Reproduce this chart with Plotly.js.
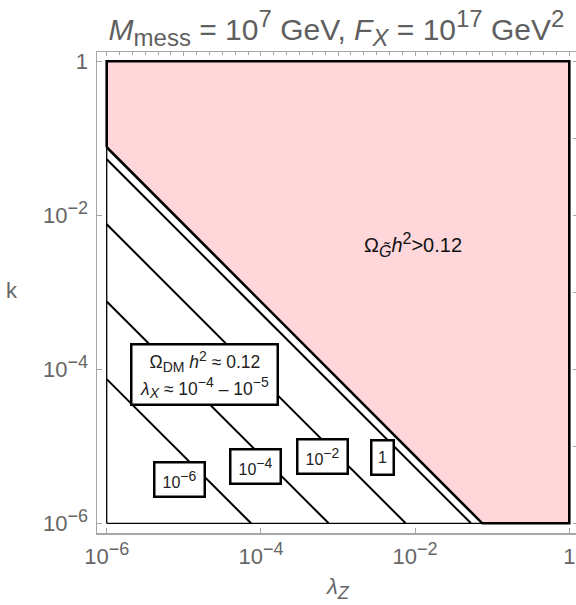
<!DOCTYPE html>
<html>
<head>
<meta charset="utf-8">
<script src="https://cdn.plot.ly/plotly-3.0.1.min.js"></script>
<style>html,body{margin:0;padding:0;background:#fff;}#chart{width:576px;height:605px;}</style>
</head>
<body>
<div id="chart"></div>
<script>
// ---- data ----
const lambdaZDomain = [1e-6, 1];          // plotted range of lambda_Z
const kDomain = [1e-6, 1];                // plotted range of k
// relic-density boundary (pink region above it)
const boundaryKAtLeft = 7.64e-2;          // k where boundary meets lambda_Z = 1e-6
const boundaryLambdaAtBottom = 7.43e-2;   // lambda_Z where boundary meets k = 1e-6
// contour lines (Omega_DM h^2 ~ 0.12 for given lambda_X)
const contourExponents = ['−6', '−4', '−2', ''];   // labels 10^-6, 10^-4, 10^-2, 1
const contourKAtLeft = [7.45e-5, 7.6e-4, 7.64e-3, 5.33e-2];
const contourLambdaAtBottom = [7.45e-5, 7.57e-4, 7.55e-3, 5.31e-2];
// axis ticks
const xTickVals = [1e-6, 1e-4, 1e-2, 1];
const xTickExp = ['−6', '−4', '−2', ''];
const yTickVals = [1e-6, 1e-4, 1e-2, 1];
const yTickExp = ['−6', '−4', '−2', ''];

const FONT = 'Liberation Sans, Arial, Helvetica, sans-serif';
const GRAY = '#666666';
const AX = '#a6a6a6';

function sz(t, px) { return '<span style="font-size:' + px + 'px">' + t + '</span>'; }
function sup(t, px) { return '<sup>' + sz(t, px) + '</sup>'; }
function sub(t, px) { return '<sub>' + sz(t, px) + '</sub>'; }
function pow10(e, px) { return e === '' ? '1' : '10' + sup(e, px); }

const traces = [];
// pink excluded region
traces.push({
  type: 'scatter', mode: 'lines',
  x: [lambdaZDomain[0], lambdaZDomain[0], lambdaZDomain[1], lambdaZDomain[1], boundaryLambdaAtBottom, lambdaZDomain[0]],
  y: [boundaryKAtLeft, kDomain[1], kDomain[1], kDomain[0], kDomain[0], boundaryKAtLeft],
  fill: 'toself', fillcolor: 'rgb(255,215,218)',
  line: {color: '#000', width: 2.6}, hoverinfo: 'skip'
});
// thin frame of the data domain
traces.push({
  type: 'scatter', mode: 'lines',
  x: [lambdaZDomain[0], lambdaZDomain[1], lambdaZDomain[1], lambdaZDomain[0], lambdaZDomain[0]],
  y: [kDomain[0], kDomain[0], kDomain[1], kDomain[1], kDomain[0]],
  line: {color: '#000', width: 1.3}, hoverinfo: 'skip'
});
// contour lines
for (let i = 0; i < contourKAtLeft.length; i++) {
  traces.push({
    type: 'scatter', mode: 'lines',
    x: [lambdaZDomain[0], contourLambdaAtBottom[i]],
    y: [contourKAtLeft[i], kDomain[0]],
    line: {color: '#000', width: 2}, hoverinfo: 'skip'
  });
}
// dummy trace for the top/right tick axes
traces.push({type: 'scatter', mode: 'markers', x: [-3], y: [-3], xaxis: 'x2', yaxis: 'y2',
  marker: {opacity: 0}, hoverinfo: 'skip'});

const xr = [-6.126, 0.087];
const yr = [-6.126, 0.12];

const labelPos = [[-5.053, -5.431], [-4.066, -5.260], [-3.205, -5.131], [-2.423, -5.142]];
const labelW = [48, 48, 48, 20];
const annotations = contourExponents.map((e, i) => ({
  text: pow10(e, 14), x: labelPos[i][0], y: labelPos[i][1], xref: 'x', yref: 'y',
  showarrow: false, xanchor: 'center', yanchor: 'middle',
  width: labelW[i], height: 32, bgcolor: '#fff', bordercolor: '#000', borderwidth: 2.5, borderpad: 0,
  font: {family: FONT, size: 16, color: '#222'}
}));
annotations.push({
  text: sz('Ω' + sub('DM', 14) + ' <i>h</i>' + sup('2', 14) + ' ≈ 0.12', 17.5) + '<br>' +
        sz('<i>λ</i>' + sub('<i>X</i>', 14) + ' ≈ 10' + sup('−4', 14) + ' – 10' + sup('−5', 14), 17.5),
  x: -4.732, y: -4.070, xref: 'x', yref: 'y', showarrow: false, xanchor: 'center', yanchor: 'middle',
  width: 144, height: 58, bgcolor: '#fff', bordercolor: '#000', borderwidth: 2.5, borderpad: 0,
  font: {family: FONT, size: 20.5, color: '#222'}
});
annotations.push({
  text: 'Ω' + sub('<i>G̃</i>', 16) + '<i>h</i>' + sup('2', 16) + '&gt;0.12',
  x: -2.027, y: -2.386, xref: 'x', yref: 'y', showarrow: false, xanchor: 'center', yanchor: 'middle',
  font: {family: FONT, size: 20, color: '#111'}
});
annotations.push({
  text: '<i>λ</i>' + sub('<i>Z</i>', 18), x: 0.503, y: -0.1164, xref: 'paper', yref: 'paper',
  showarrow: false, xanchor: 'center', yanchor: 'middle', font: {family: FONT, size: 22, color: GRAY}
});
annotations.push({
  text: 'k', x: -0.1775, y: 0.505, xref: 'paper', yref: 'paper',
  showarrow: false, xanchor: 'center', yanchor: 'middle', font: {family: FONT, size: 22, color: GRAY}
});

const layout = {
  width: 576, height: 605,
  margin: {l: 97, r: 0, t: 52, b: 72, pad: 0},
  paper_bgcolor: '#fff', plot_bgcolor: '#fff',
  showlegend: false,
  font: {family: FONT, color: GRAY},
  title: {
    text: '<i>M</i>' + sub('mess', 24) + ' = 10' + sup('7', 24) + ' GeV, <i>F</i>' + sub('<i>X</i>', 24) +
          ' = 10' + sup('17', 24) + ' GeV' + sup('2', 24),
    x: 0.5, xref: 'paper', xanchor: 'center', y: 0.952, yref: 'container', yanchor: 'middle',
    font: {family: FONT, size: 30, color: '#5f5f5f'}
  },
  xaxis: {
    type: 'log', range: xr, tickvals: xTickVals, ticktext: xTickExp.map(e => pow10(e, 18)),
    ticks: 'inside', ticklen: 5, tickwidth: 1, tickcolor: AX,
    showline: true, linecolor: AX, linewidth: 1.5, showgrid: false, zeroline: false,
    tickfont: {family: FONT, size: 22, color: GRAY}, ticklabelstandoff: 3
  },
  yaxis: {
    type: 'log', range: yr, tickvals: yTickVals, ticktext: yTickExp.map(e => pow10(e, 18)),
    ticks: 'inside', ticklen: 5, tickwidth: 1, tickcolor: AX,
    showline: true, linecolor: AX, linewidth: 1.5, showgrid: false, zeroline: false,
    tickfont: {family: FONT, size: 22, color: GRAY}, ticklabelstandoff: 3
  },
  xaxis2: {
    overlaying: 'x', side: 'top', range: xr, tick0: 0, dtick: 1,
    ticks: 'inside', ticklen: 4, tickwidth: 1, tickcolor: AX,
    minor: {dtick: 1/6, tick0: 0, ticks: 'inside', ticklen: 2.5, tickcolor: AX, showgrid: false},
    showline: true, linecolor: AX, linewidth: 1.5, showgrid: false, zeroline: false, showticklabels: false
  },
  yaxis2: {
    overlaying: 'y', side: 'right', range: yr, tick0: 0, dtick: 1,
    ticks: 'inside', ticklen: 3, tickwidth: 1, tickcolor: AX,
    showline: false, showgrid: false, zeroline: false, showticklabels: false
  },
  annotations: annotations
};

Plotly.newPlot('chart', traces, layout, {staticPlot: true, displayModeBar: false});
</script>
</body>
</html>
